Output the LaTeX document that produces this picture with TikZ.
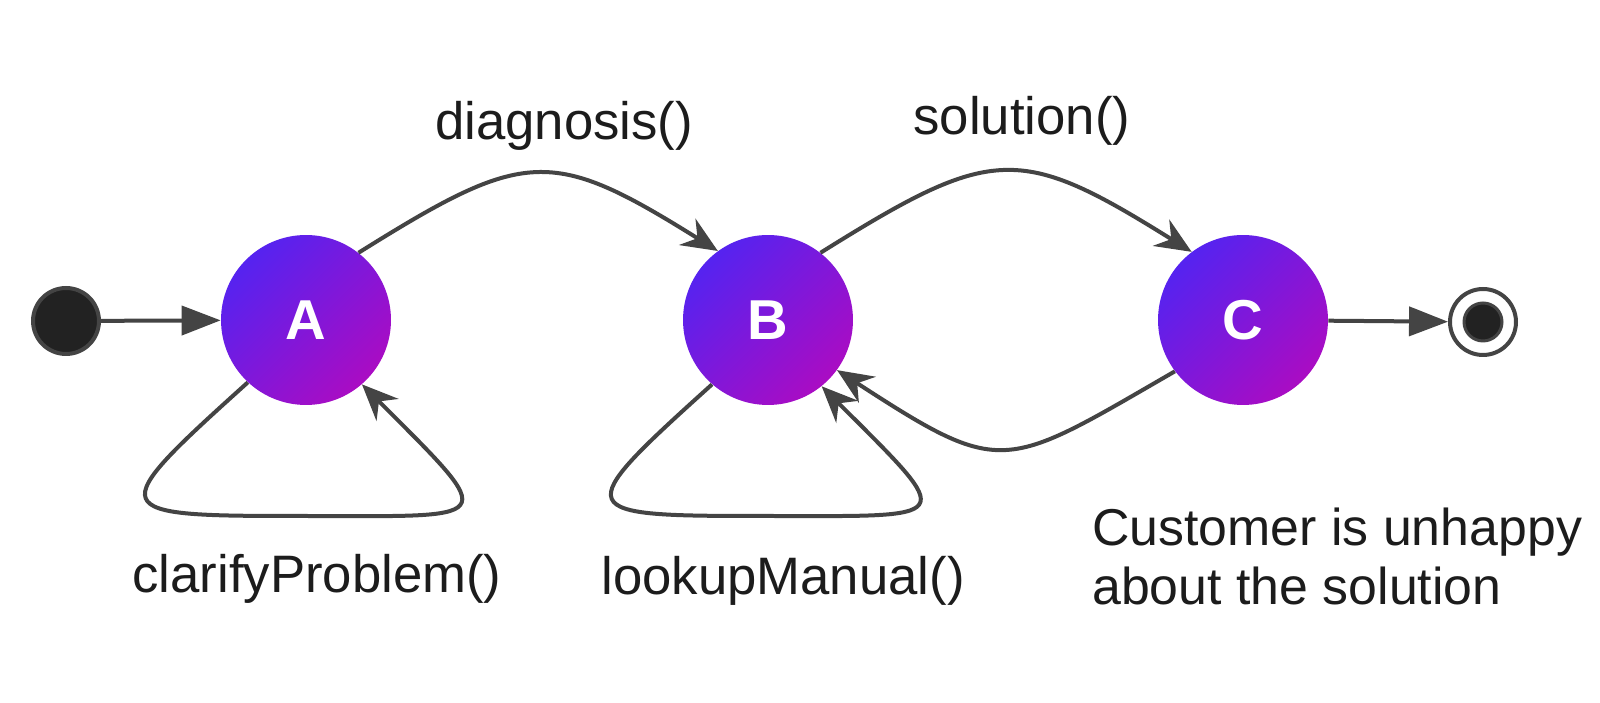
\documentclass[tikz,border=0pt]{standalone}
\usepackage{fontspec}
\setmainfont{Liberation Sans}
\usetikzlibrary{arrows.meta}
\definecolor{stateblue}{RGB}{85,35,240}
\definecolor{statepink}{RGB}{170,12,195}
\definecolor{edgegray}{RGB}{68,68,68}
\definecolor{dotblack}{RGB}{34,34,34}
\definecolor{textblack}{RGB}{28,28,28}

\begin{document}
\begin{tikzpicture}[x=0.02cm,y=0.02cm,
  statenode/.style={circle,minimum size=3.4cm,inner sep=0pt,top color=stateblue,bottom color=statepink,shading angle=45,text=white,font=\fontsize{32}{36}\selectfont\bfseries},
  trans/.style={draw=edgegray,line width=0.08cm,-{Stealth[length=0.72cm,width=0.62cm,inset=0.24cm]}},
  entry/.style={draw=edgegray,line width=0.08cm,-{Triangle[length=0.78cm,width=0.58cm]}},
  msgtext/.style={text=textblack,font=\fontsize{30}{34.14}\selectfont,inner sep=0pt}]
\useasboundingbox[fill=white] (0,0) rectangle (1600,703);

\node[circle,fill=dotblack,draw=edgegray,line width=0.08cm,minimum size=1.32cm,inner sep=0pt] (S) at (66,382) {};
\node[statenode] (A) at (306,383) {A};
\node[statenode] (B) at (768,383) {B};
\node[statenode] (C) at (1243,383) {C};
\node[circle,fill=white,draw=edgegray,line width=0.08cm,minimum size=1.32cm,inner sep=0pt] (E) at (1483,381) {};
\node[circle,fill=dotblack,draw=edgegray,line width=0.06cm,minimum size=0.76cm,inner sep=0pt] (Ein) at (E) {};

\draw[entry] (S) -- (A);
\draw[entry] (C) -- (E);

\draw[trans] (A.52) to[out=32,in=148,looseness=1.4] (B.126);
\draw[trans] (B.52) to[out=32,in=148,looseness=1.4] (C.127);
\draw[trans] (C.217) to[out=210,in=-33,looseness=1.5] (B.324);

% self loops
\coordinate (Abot) at (300,187);
\coordinate (Bbot) at (765,187);
\draw[trans] (A.227) to[out=222,in=180,looseness=3.5] (Abot) to[out=0,in=-45,looseness=3.5] (A.311);
\draw[trans] (B.229) to[out=222,in=180,looseness=3.5] (Bbot) to[out=0,in=-45,looseness=3.5] (B.309);

\node[msgtext,anchor=base] (diag) at (564,563) {diagnosis()};
\node[msgtext,anchor=base] (sol) at (1022,568) {solution()};
\node[msgtext,anchor=base] (clar) at (317,110) {clarifyProblem()};
\node[msgtext,anchor=base] (look) at (783,108) {lookupManual()};
\node[msgtext,anchor=base west,align=left,font=\fontsize{29.5}{34.14}\selectfont] (unhappy) at (1092,98) {Customer is unhappy\\about the solution};

\end{tikzpicture}
\end{document}
